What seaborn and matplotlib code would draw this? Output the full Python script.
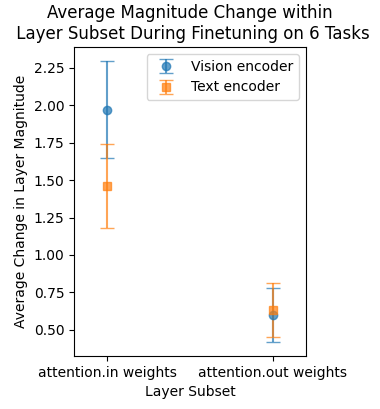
import matplotlib
matplotlib.use("Agg")
import matplotlib.pyplot as plt
import seaborn as sns
import numpy as np

# values
layer_subsets = ["attention.in weights", "attention.out weights"]
vision_mean = [1.97, 0.60]
vision_err = [0.325, 0.18]
text_mean = [1.46, 0.63]
text_err = [0.28, 0.18]

colors = sns.color_palette("tab10")

fig, ax = plt.subplots(figsize=(3.8, 4.09), dpi=100)
x = np.arange(len(layer_subsets))

ax.errorbar(x, vision_mean, yerr=vision_err, fmt="o", color=colors[0],
            capsize=5, markersize=6, alpha=0.7, label="Vision encoder")
ax.errorbar(x, text_mean, yerr=text_err, fmt="s", color=colors[1],
            capsize=5, markersize=6, alpha=0.7, label="Text encoder")

ax.set_xticks(x)
ax.set_xticklabels(layer_subsets)
ax.set_xlim(-0.2, 1.2)
ax.set_xlabel("Layer Subset")
ax.set_ylabel("Average Change in Layer Magnitude")
ax.set_title("Average Magnitude Change within\n Layer Subset During Finetuning on 6 Tasks")
ax.legend(loc="upper right")

fig.subplots_adjust(left=0.195, right=0.805, top=0.885, bottom=0.13)
fig.savefig("out.png", dpi=100)
